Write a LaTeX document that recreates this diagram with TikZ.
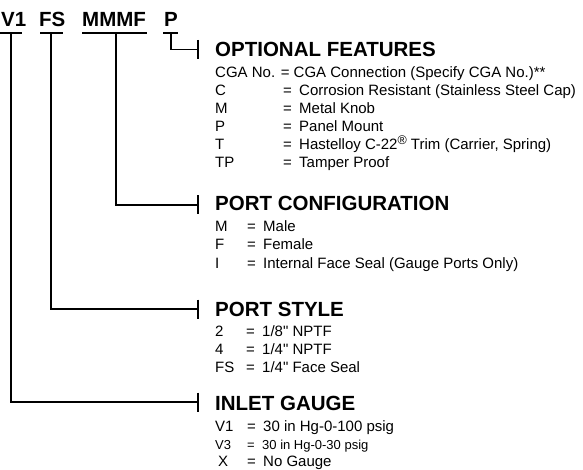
\documentclass[tikz,border=0pt]{standalone}
\usepackage{fontspec}
\setmainfont{Liberation Sans}[Ligatures=TeXOff]
\begin{document}
\begin{tikzpicture}[x=1pt,y=-1pt,
  conn/.style={line width=1.1pt,black},
  codelabel/.style={anchor=base west,inner sep=0pt,font=\fontsize{20.5}{22}\selectfont\bfseries},
  heading/.style={anchor=base west,inner sep=0pt,font=\fontsize{20.5}{22}\selectfont\bfseries},
  row/.style={anchor=base west,inner sep=0pt,font=\fontsize{15}{17}\selectfont},
  rowsmall/.style={anchor=base west,inner sep=0pt,font=\fontsize{13}{15}\selectfont}]
\useasboundingbox (0,0) rectangle (583,470);
% code labels
\node[codelabel] (lv1) at (1,27) {V1};
\node[codelabel] (lfs) at (39,27) {FS};
\node[codelabel] (lmm) at (82,27) {MMMF};
\node[codelabel] (lp) at (164,27) {P};
% underlines
\coordinate (u1a) at (0,33);   \coordinate (u1b) at (22,33);
\coordinate (u2a) at (40,33);  \coordinate (u2b) at (63,33);
\coordinate (u3a) at (82,33);  \coordinate (u3b) at (147,33);
\coordinate (u4a) at (163,33); \coordinate (u4b) at (178,33);
\draw[conn] (u1a) -- (u1b);
\draw[conn] (u2a) -- (u2b);
\draw[conn] (u3a) -- (u3b);
\draw[conn] (u4a) -- (u4b);
% connector starts
\coordinate (sv1) at (11,33);
\coordinate (sfs) at (51,33);
\coordinate (smm) at (116,33);
\coordinate (sp) at (171,33);
% connector ends
\coordinate (eopt) at (198,49.5);
\coordinate (eport) at (198,205);
\coordinate (estyle) at (198,309);
\coordinate (einlet) at (198,402);
\draw[conn] (sp) |- (eopt);
\draw[conn] (smm) |- (eport);
\draw[conn] (sfs) |- (estyle);
\draw[conn] (sv1) |- (einlet);
\foreach \e in {eopt,eport,estyle,einlet}
  \draw[conn] ([yshift=9.5pt]\e) -- ([yshift=-9.5pt]\e);
% OPTIONAL FEATURES
\node[heading] (hopt) at (215,57) {OPTIONAL FEATURES};
\node[row] (o1) at (215,78) {CGA No. = CGA Connection (Specify CGA No.)**};
\node[row] (o2) at (215,96) {\makebox[68pt][l]{C}\makebox[16pt][l]{=}Corrosion Resistant (Stainless Steel Cap)};
\node[row] (o3) at (215,114) {\makebox[68pt][l]{M}\makebox[16pt][l]{=}Metal Knob};
\node[row] (o4) at (215,132) {\makebox[68pt][l]{P}\makebox[16pt][l]{=}Panel Mount};
\node[row] (o5) at (215,150) {\makebox[68pt][l]{T}\makebox[16pt][l]{=}Hastelloy C-22\raisebox{0.65ex}{\fontsize{12.5}{13}\selectfont ®} Trim (Carrier, Spring)};
\node[row] (o6) at (215,168) {\makebox[68pt][l]{TP}\makebox[16pt][l]{=}Tamper Proof};
% PORT CONFIGURATION
\node[heading] (hport) at (215,211) {PORT CONFIGURATION};
\node[row] (p1) at (215,232) {\makebox[32pt][l]{M}\makebox[16pt][l]{=}Male};
\node[row] (p2) at (215,250) {\makebox[32pt][l]{F}\makebox[16pt][l]{=}Female};
\node[row] (p3) at (215,268) {\makebox[32pt][l]{I}\makebox[16pt][l]{=}Internal Face Seal (Gauge Ports Only)};
% PORT STYLE
\node[heading] (hstyle) at (215,316) {PORT STYLE};
\node[row] (s1) at (215,336) {\makebox[31pt][l]{2}\makebox[16pt][l]{=}1/8" NPTF};
\node[row] (s2) at (215,354) {\makebox[31pt][l]{4}\makebox[16pt][l]{=}1/4" NPTF};
\node[row] (s3) at (215,372) {\makebox[31pt][l]{FS}\makebox[16pt][l]{=}1/4" Face Seal};
% INLET GAUGE
\node[heading] (hinlet) at (215,410) {INLET GAUGE};
\node[row] (g1) at (215,431) {\makebox[32pt][l]{V1}\makebox[16pt][l]{=}30 in Hg-0-100 psig};
\node[rowsmall] (g2) at (215,449) {\makebox[32pt][l]{V3}\makebox[15pt][l]{=}30 in Hg-0-30 psig};
\node[row] (g3) at (218,466) {\makebox[29pt][l]{X}\makebox[16pt][l]{=}No Gauge};
\end{tikzpicture}
\end{document}
